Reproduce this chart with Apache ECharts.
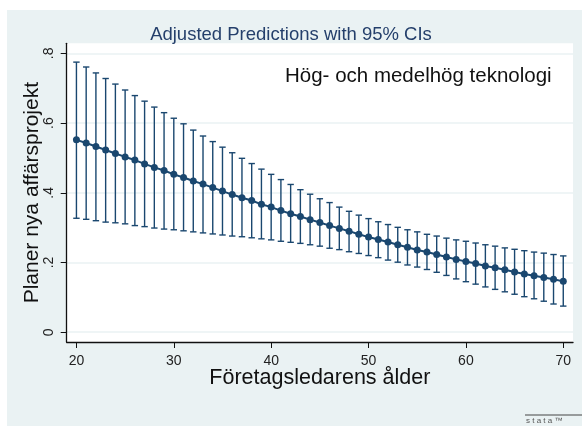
<!DOCTYPE html>
<html>
<head>
<meta charset="utf-8">
<script src="https://cdn.jsdelivr.net/npm/echarts@6/dist/echarts.min.js"></script>
<style>
  html, body { margin: 0; padding: 0; background: #fff; }
  #chart { width: 582px; height: 426px; }
</style>
</head>
<body>
<div id="chart"></div>
<script>
const ages = [20, 21, 22, 23, 24, 25, 26, 27, 28, 29, 30, 31, 32, 33, 34, 35, 36, 37, 38, 39, 40,
  41, 42, 43, 44, 45, 46, 47, 48, 49, 50, 51, 52, 53, 54, 55, 56, 57, 58, 59, 60,
  61, 62, 63, 64, 65, 66, 67, 68, 69, 70]

const predicted = [0.552, 0.543, 0.533, 0.523, 0.513, 0.503, 0.494, 0.483, 0.473, 0.464, 0.453,
  0.444, 0.434, 0.425, 0.415, 0.405, 0.395, 0.386, 0.378, 0.367, 0.359,
  0.349, 0.340, 0.332, 0.323, 0.315, 0.306, 0.298, 0.290, 0.281, 0.273,
  0.266, 0.259, 0.251, 0.244, 0.236, 0.230, 0.223, 0.216, 0.209, 0.203,
  0.197, 0.190, 0.185, 0.179, 0.173, 0.167, 0.162, 0.157, 0.152, 0.146]

const ciUpper = [0.775, 0.761, 0.744, 0.728, 0.712, 0.695, 0.679, 0.663, 0.646, 0.630, 0.614,
  0.598, 0.580, 0.563, 0.547, 0.531, 0.515, 0.499, 0.484, 0.468, 0.453,
  0.438, 0.424, 0.409, 0.396, 0.383, 0.372, 0.359, 0.347, 0.336, 0.326,
  0.317, 0.309, 0.301, 0.294, 0.288, 0.281, 0.276, 0.270, 0.265, 0.261,
  0.256, 0.251, 0.247, 0.242, 0.238, 0.234, 0.230, 0.227, 0.223, 0.219]

const ciLower = [0.327, 0.324, 0.320, 0.316, 0.314, 0.311, 0.306, 0.303, 0.299, 0.296, 0.294,
  0.291, 0.288, 0.285, 0.282, 0.279, 0.276, 0.274, 0.271, 0.268, 0.265,
  0.261, 0.258, 0.255, 0.251, 0.247, 0.241, 0.237, 0.231, 0.226, 0.220,
  0.214, 0.207, 0.201, 0.193, 0.187, 0.180, 0.172, 0.163, 0.153, 0.145,
  0.138, 0.130, 0.123, 0.116, 0.109, 0.102, 0.096, 0.089, 0.081, 0.075]

const xTicks = [20, 30, 40, 50, 60, 70]
const yTicks = [0, 0.2, 0.4, 0.6, 0.8]

const navy = '#1a476f'
const bg = '#eaf2f3'
const fontFamily = '"Liberation Sans", Arial, sans-serif'

const chart = echarts.init(document.getElementById('chart'))

const option = {
  backgroundColor: '#ffffff',
  animation: false,
  textStyle: { fontFamily },
  title: {
    text: 'Adjusted Predictions with 95% CIs',
    left: 'center',
    top: 20,
    textStyle: { fontSize: 18.5, fontWeight: 'normal', color: '#243f6b', fontFamily },
  },
  graphic: [
    {
      type: 'rect',
      z: -10,
      shape: { x: 7, y: 10, width: 575, height: 416 },
      style: { fill: bg },
      silent: true,
    },
    {
      type: 'text',
      left: 285,
      top: 66,
      z: 10,
      style: { text: 'Hög- och medelhög teknologi', fontSize: 20.5, fill: '#111', fontFamily },
    },
    {
      type: 'line',
      z: 10,
      shape: { x1: 525, y1: 415, x2: 582, y2: 415 },
      style: { stroke: '#444', lineWidth: 1 },
    },
    {
      type: 'text',
      left: 526,
      top: 417,
      z: 10,
      style: { text: 's t a t a ™', fontSize: 8, fill: '#555', fontFamily },
    },
  ],
  grid: {
    left: 66.7,
    right: 9,
    top: 43.3,
    bottom: 84,
    show: true,
    backgroundColor: '#ffffff',
    borderWidth: 0,
  },
  xAxis: {
    type: 'value',
    min: 19,
    max: 71,
    name: 'Företagsledarens ålder',
    nameLocation: 'middle',
    nameGap: 25.5,
    nameMoveOverlap: false,
    nameTextStyle: { fontSize: 21.5, color: '#111', fontFamily },
    axisLine: { show: true, onZero: false, lineStyle: { color: '#111', width: 1.3 } },
    axisTick: { show: true, length: 6, lineStyle: { color: '#111', width: 1 }, customValues: xTicks },
    axisLabel: { fontSize: 14, color: '#222', margin: 12, customValues: xTicks },
    splitLine: { show: false },
  },
  yAxis: {
    type: 'value',
    min: -0.028,
    max: 0.829,
    name: 'Planer nya affärsprojekt',
    nameLocation: 'middle',
    nameGap: 24,
    nameMoveOverlap: false,
    nameRotate: 90,
    nameTextStyle: { fontSize: 21, color: '#111', fontFamily },
    axisLine: { show: true, onZero: false, lineStyle: { color: '#111', width: 1.3 } },
    axisTick: { show: true, length: 6, lineStyle: { color: '#111', width: 1 }, customValues: yTicks },
    axisLabel: {
      fontSize: 14,
      color: '#222',
      rotate: 90,
      margin: 11,
      customValues: yTicks,
      formatter: (v) => (v === 0 ? '0' : String(Math.round(v * 10) / 10).replace(/^0/, '')),
    },
    splitLine: { show: true, lineStyle: { color: bg, width: 1.5 } },
  },
  series: [
    {
      type: 'custom',
      name: 'ci',
      data: ages.map((a, i) => [a, ciLower[i], ciUpper[i]]),
      renderItem: (params, api) => {
        const x = api.value(0)
        const lo = api.coord([x, api.value(1)])
        const hi = api.coord([x, api.value(2)])
        const half = 3.2
        const style = { stroke: navy, lineWidth: 1.4 }
        return {
          type: 'group',
          children: [
            { type: 'line', shape: { x1: lo[0], y1: lo[1], x2: hi[0], y2: hi[1] }, style },
            { type: 'line', shape: { x1: lo[0] - half, y1: lo[1], x2: lo[0] + half, y2: lo[1] }, style },
            { type: 'line', shape: { x1: hi[0] - half, y1: hi[1], x2: hi[0] + half, y2: hi[1] }, style },
          ],
        }
      },
      z: 2,
    },
    {
      type: 'line',
      name: 'prediction',
      data: ages.map((a, i) => [a, predicted[i]]),
      symbol: 'circle',
      symbolSize: 7,
      showSymbol: true,
      lineStyle: { color: navy, width: 2 },
      itemStyle: { color: navy },
      z: 3,
    },
  ],
}

chart.setOption(option)
</script>
</body>
</html>
